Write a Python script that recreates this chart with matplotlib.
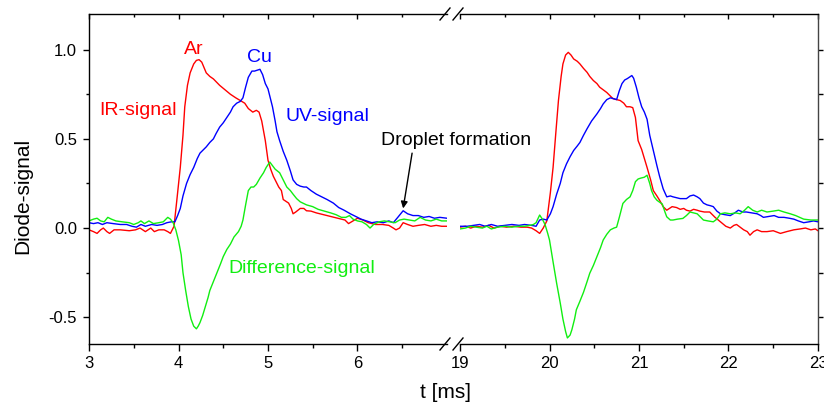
import numpy as np
import matplotlib
matplotlib.use('Agg')
import matplotlib.pyplot as plt
from matplotlib.lines import Line2D
from matplotlib.ticker import MultipleLocator, FixedLocator, FormatStrFormatter

plt.rcParams['font.family'] = ['Liberation Sans', 'DejaVu Sans']
plt.rcParams['axes.unicode_minus'] = False

RED = '#ff0000'
BLUE = '#0000ff'
GREEN = '#11ee11'

# (t [ms], signal) pairs, first shot 3-7 ms
ir_first = np.array([
    (3.00, -0.01), (3.05, -0.02), (3.09, -0.03), (3.13, -0.01), (3.16, 0.00),
    (3.20, -0.02), (3.23, -0.03), (3.28, -0.01), (3.35, -0.01), (3.45, -0.015),
    (3.52, -0.01), (3.57, 0.00), (3.63, -0.02), (3.66, -0.01), (3.69, 0.00),
    (3.73, -0.02), (3.78, -0.01), (3.84, -0.01), (3.88, -0.02), (3.91, -0.03),
    (3.95, 0.01), (3.98, 0.15), (4.02, 0.34), (4.05, 0.52), (4.07, 0.68),
    (4.10, 0.80), (4.13, 0.87), (4.17, 0.92), (4.20, 0.94), (4.23, 0.944),
    (4.26, 0.93), (4.31, 0.87), (4.35, 0.85), (4.39, 0.836), (4.46, 0.80),
    (4.52, 0.775), (4.58, 0.75), (4.64, 0.73), (4.69, 0.715), (4.74, 0.70),
    (4.78, 0.67), (4.83, 0.65), (4.87, 0.66), (4.90, 0.65), (4.93, 0.60),
    (4.97, 0.49), (5.00, 0.38), (5.03, 0.33), (5.06, 0.29), (5.12, 0.23),
    (5.15, 0.21), (5.17, 0.16), (5.20, 0.15), (5.23, 0.14), (5.26, 0.11),
    (5.28, 0.08), (5.31, 0.09), (5.36, 0.11), (5.40, 0.11), (5.43, 0.097),
    (5.48, 0.095), (5.54, 0.085), (5.62, 0.075), (5.70, 0.065), (5.78, 0.055),
    (5.86, 0.045), (5.90, 0.025), (5.95, 0.04), (6.00, 0.055), (6.06, 0.045),
    (6.12, 0.03), (6.20, 0.02), (6.28, 0.02), (6.35, 0.015), (6.40, 0.00),
    (6.43, -0.01), (6.47, 0.00), (6.51, 0.03), (6.56, 0.02), (6.62, 0.01),
    (6.68, 0.015), (6.75, 0.02), (6.82, 0.01), (6.88, 0.015), (6.94, 0.01),
    (7.00, 0.01),
])

uv_first = np.array([
    (3.00, 0.03), (3.05, 0.025), (3.10, 0.03), (3.15, 0.02), (3.20, 0.03),
    (3.27, 0.025), (3.35, 0.02), (3.42, 0.02), (3.48, 0.01), (3.53, 0.005),
    (3.58, 0.02), (3.63, 0.01), (3.70, 0.02), (3.76, 0.015), (3.82, 0.02),
    (3.87, 0.03), (3.92, 0.035), (3.96, 0.035), (3.99, 0.07), (4.02, 0.11),
    (4.05, 0.18), (4.09, 0.25), (4.13, 0.30), (4.17, 0.34), (4.21, 0.39),
    (4.24, 0.42), (4.28, 0.44), (4.31, 0.455), (4.35, 0.48), (4.39, 0.50),
    (4.42, 0.53), (4.46, 0.566), (4.50, 0.59), (4.54, 0.62), (4.58, 0.65),
    (4.61, 0.68), (4.65, 0.70), (4.69, 0.71), (4.72, 0.73), (4.75, 0.79),
    (4.78, 0.845), (4.82, 0.88), (4.85, 0.88), (4.88, 0.885), (4.91, 0.89),
    (4.94, 0.86), (4.97, 0.81), (5.00, 0.78), (5.02, 0.74), (5.05, 0.68),
    (5.08, 0.60), (5.10, 0.54), (5.13, 0.49), (5.17, 0.43), (5.21, 0.38),
    (5.25, 0.32), (5.28, 0.27), (5.32, 0.245), (5.36, 0.235), (5.40, 0.23),
    (5.43, 0.23), (5.48, 0.21), (5.54, 0.19), (5.60, 0.175), (5.66, 0.16),
    (5.73, 0.14), (5.79, 0.115), (5.85, 0.10), (5.92, 0.08), (5.98, 0.065),
    (6.04, 0.05), (6.10, 0.04), (6.16, 0.03), (6.22, 0.035), (6.29, 0.03),
    (6.35, 0.04), (6.40, 0.03), (6.45, 0.06), (6.51, 0.097), (6.56, 0.08),
    (6.62, 0.07), (6.68, 0.07), (6.74, 0.06), (6.80, 0.065), (6.86, 0.055),
    (6.92, 0.06), (7.00, 0.055),
])

diff_first = np.array([
    (3.00, 0.04), (3.05, 0.05), (3.09, 0.055), (3.13, 0.04), (3.17, 0.035),
    (3.21, 0.06), (3.25, 0.05), (3.30, 0.04), (3.37, 0.035), (3.45, 0.03),
    (3.50, 0.02), (3.55, 0.03), (3.58, 0.04), (3.62, 0.025), (3.67, 0.04),
    (3.72, 0.025), (3.78, 0.03), (3.83, 0.035), (3.88, 0.06), (3.91, 0.05),
    (3.94, 0.03), (3.97, -0.01), (4.00, -0.07), (4.03, -0.15), (4.05, -0.25),
    (4.08, -0.35), (4.11, -0.44), (4.14, -0.51), (4.17, -0.55), (4.20, -0.565),
    (4.22, -0.55), (4.24, -0.53), (4.27, -0.49), (4.30, -0.44), (4.33, -0.39),
    (4.35, -0.35), (4.39, -0.30), (4.43, -0.25), (4.47, -0.20), (4.50, -0.16),
    (4.54, -0.12), (4.58, -0.09), (4.62, -0.05), (4.67, -0.02), (4.70, 0.01),
    (4.72, 0.045), (4.75, 0.13), (4.78, 0.21), (4.81, 0.23), (4.84, 0.23),
    (4.87, 0.245), (4.91, 0.28), (4.95, 0.31), (4.98, 0.34), (5.02, 0.37),
    (5.05, 0.35), (5.08, 0.33), (5.13, 0.31), (5.17, 0.27), (5.21, 0.23),
    (5.25, 0.21), (5.28, 0.19), (5.32, 0.165), (5.36, 0.147), (5.43, 0.13),
    (5.50, 0.12), (5.56, 0.105), (5.63, 0.095), (5.70, 0.085), (5.76, 0.075),
    (5.82, 0.06), (5.87, 0.06), (5.91, 0.07), (5.95, 0.05), (6.00, 0.04),
    (6.05, 0.035), (6.10, 0.02), (6.14, 0.00), (6.18, 0.02), (6.24, 0.035),
    (6.30, 0.04), (6.36, 0.035), (6.42, 0.03), (6.47, 0.045), (6.52, 0.05),
    (6.58, 0.045), (6.64, 0.04), (6.70, 0.06), (6.76, 0.045), (6.82, 0.04),
    (6.88, 0.05), (6.94, 0.04), (7.00, 0.04),
])

# second shot 19-23 ms
ir_second = np.array([
    (19.00, 0.005), (19.06, 0.01), (19.12, 0.00), (19.18, 0.01), (19.25, 0.005),
    (19.32, 0.015), (19.38, 0.00), (19.45, 0.01), (19.52, 0.005), (19.60, 0.01),
    (19.68, 0.005), (19.75, 0.005), (19.80, 0.00), (19.85, -0.015), (19.89, -0.03),
    (19.93, 0.00), (19.97, 0.04), (20.01, 0.20), (20.04, 0.34), (20.07, 0.53),
    (20.10, 0.715), (20.13, 0.85), (20.15, 0.92), (20.18, 0.97), (20.21, 0.985),
    (20.24, 0.97), (20.27, 0.948), (20.31, 0.935), (20.34, 0.92), (20.38, 0.895),
    (20.42, 0.873), (20.45, 0.85), (20.49, 0.827), (20.53, 0.81), (20.56, 0.79),
    (20.60, 0.775), (20.64, 0.76), (20.68, 0.74), (20.71, 0.725), (20.75, 0.72),
    (20.79, 0.715), (20.83, 0.70), (20.86, 0.68), (20.90, 0.68), (20.93, 0.675),
    (20.96, 0.62), (20.99, 0.49), (21.03, 0.44), (21.06, 0.39), (21.09, 0.34),
    (21.13, 0.27), (21.16, 0.21), (21.20, 0.18), (21.23, 0.156), (21.27, 0.12),
    (21.31, 0.10), (21.34, 0.11), (21.37, 0.12), (21.42, 0.115), (21.46, 0.105),
    (21.50, 0.11), (21.53, 0.10), (21.57, 0.095), (21.61, 0.105), (21.65, 0.10),
    (21.68, 0.095), (21.73, 0.09), (21.79, 0.09), (21.85, 0.06), (21.91, 0.035),
    (21.97, 0.01), (22.02, 0.00), (22.06, 0.015), (22.09, 0.02), (22.13, 0.005),
    (22.17, -0.01), (22.21, -0.02), (22.24, -0.04), (22.28, -0.02), (22.32, -0.01),
    (22.37, -0.02), (22.43, -0.02), (22.50, -0.015), (22.58, -0.03), (22.65, -0.02),
    (22.73, -0.01), (22.80, -0.005), (22.86, 0.00), (22.92, -0.01), (22.97, -0.005),
    (23.00, -0.015),
])

uv_second = np.array([
    (19.00, 0.01), (19.08, 0.01), (19.15, 0.015), (19.22, 0.02), (19.28, 0.01),
    (19.35, 0.02), (19.42, 0.01), (19.50, 0.015), (19.58, 0.02), (19.66, 0.015),
    (19.72, 0.02), (19.80, 0.015), (19.85, 0.01), (19.89, 0.045), (19.93, 0.05),
    (19.97, 0.045), (20.01, 0.08), (20.04, 0.12), (20.08, 0.19), (20.12, 0.25),
    (20.15, 0.31), (20.19, 0.36), (20.23, 0.40), (20.27, 0.435), (20.31, 0.46),
    (20.34, 0.48), (20.38, 0.52), (20.42, 0.557), (20.47, 0.60), (20.53, 0.64),
    (20.57, 0.67), (20.60, 0.696), (20.64, 0.72), (20.68, 0.73), (20.72, 0.725),
    (20.75, 0.72), (20.78, 0.77), (20.81, 0.81), (20.84, 0.83), (20.87, 0.838),
    (20.92, 0.855), (20.94, 0.84), (20.97, 0.79), (21.00, 0.73), (21.03, 0.68),
    (21.06, 0.65), (21.09, 0.61), (21.12, 0.52), (21.16, 0.435), (21.20, 0.35),
    (21.23, 0.29), (21.27, 0.22), (21.31, 0.175), (21.35, 0.18), (21.38, 0.175),
    (21.42, 0.17), (21.46, 0.165), (21.50, 0.165), (21.53, 0.165), (21.57, 0.18),
    (21.61, 0.185), (21.65, 0.175), (21.68, 0.165), (21.72, 0.14), (21.76, 0.13),
    (21.80, 0.125), (21.83, 0.12), (21.87, 0.095), (21.91, 0.08), (21.96, 0.075),
    (22.02, 0.07), (22.07, 0.085), (22.11, 0.10), (22.16, 0.09), (22.20, 0.09),
    (22.26, 0.085), (22.32, 0.08), (22.36, 0.07), (22.39, 0.06), (22.45, 0.065),
    (22.51, 0.07), (22.56, 0.06), (22.62, 0.06), (22.68, 0.055), (22.73, 0.05),
    (22.78, 0.04), (22.84, 0.03), (22.90, 0.035), (22.95, 0.04), (23.00, 0.035),
])

diff_second = np.array([
    (19.00, -0.005), (19.06, 0.00), (19.12, 0.01), (19.18, 0.005), (19.25, 0.00),
    (19.30, 0.01), (19.35, -0.005), (19.42, 0.005), (19.50, 0.01), (19.58, 0.005),
    (19.65, 0.01), (19.72, 0.01), (19.78, 0.015), (19.82, 0.02), (19.85, 0.03),
    (19.89, 0.073), (19.92, 0.05), (19.95, 0.02), (19.98, -0.03), (20.00, -0.067),
    (20.04, -0.19), (20.08, -0.31), (20.12, -0.42), (20.15, -0.51), (20.18, -0.58),
    (20.20, -0.616), (20.23, -0.60), (20.25, -0.57), (20.28, -0.51), (20.30, -0.458),
    (20.34, -0.41), (20.38, -0.36), (20.42, -0.30), (20.45, -0.253), (20.49, -0.21),
    (20.53, -0.16), (20.57, -0.11), (20.60, -0.067), (20.64, -0.035), (20.68, -0.01),
    (20.72, 0.00), (20.75, 0.005), (20.78, 0.06), (20.82, 0.138), (20.86, 0.16),
    (20.90, 0.175), (20.93, 0.21), (20.96, 0.26), (20.99, 0.275), (21.02, 0.28),
    (21.06, 0.285), (21.09, 0.296), (21.12, 0.25), (21.14, 0.21), (21.17, 0.175),
    (21.20, 0.156), (21.23, 0.145), (21.26, 0.135), (21.29, 0.09), (21.31, 0.063),
    (21.35, 0.045), (21.38, 0.045), (21.43, 0.05), (21.49, 0.054), (21.53, 0.07),
    (21.57, 0.09), (21.61, 0.085), (21.65, 0.08), (21.69, 0.06), (21.72, 0.045),
    (21.77, 0.04), (21.83, 0.035), (21.87, 0.05), (21.91, 0.08), (21.96, 0.085),
    (22.02, 0.08), (22.08, 0.085), (22.13, 0.08), (22.18, 0.10), (22.22, 0.12),
    (22.27, 0.10), (22.32, 0.09), (22.37, 0.10), (22.43, 0.09), (22.50, 0.095),
    (22.56, 0.10), (22.62, 0.09), (22.69, 0.08), (22.75, 0.07), (22.84, 0.05),
    (22.92, 0.045), (23.00, 0.045),
])

first_major = [3, 4, 5, 6]
first_minor = [3.5, 4.5, 5.5, 6.5]
second_major = [19, 20, 21, 22, 23]
second_minor = [19.5, 20.5, 21.5, 22.5]

W, H = 824, 405
fig = plt.figure(figsize=(W / 100, H / 100), dpi=100)

# axes boxes in pixels: left, right, top, bottom
def px_box(x0, x1, y0, y1):
    return [x0 / W, 1 - y1 / H, (x1 - x0) / W, (y1 - y0) / H]

ax1 = fig.add_axes(px_box(89, 447, 14, 344))
ax2 = fig.add_axes(px_box(460, 818, 14, 344))

panels = [
    (ax1, (ir_first, uv_first, diff_first), (3, 7), first_major, first_minor),
    (ax2, (ir_second, uv_second, diff_second), (19, 23), second_major, second_minor),
]
for ax, (ir, uv, df), lim, major, minor in panels:
    ax.plot(ir[:, 0], ir[:, 1], color=RED, lw=1.0)
    ax.plot(uv[:, 0], uv[:, 1], color=BLUE, lw=1.0)
    ax.plot(df[:, 0], df[:, 1], color=GREEN, lw=1.0)
    ax.set_xlim(*lim)
    ax.set_ylim(-0.65, 1.2)
    ax.xaxis.set_major_locator(FixedLocator(major))
    ax.xaxis.set_minor_locator(FixedLocator(minor))
    ax.yaxis.set_major_locator(MultipleLocator(0.5))
    ax.yaxis.set_minor_locator(MultipleLocator(0.25))
    ax.yaxis.set_major_formatter(FormatStrFormatter('%.1f'))
    for s in ax.spines.values():
        s.set_linewidth(1.0)
    ax.tick_params(axis='x', which='major', bottom=True, top=False, direction='out',
                   length=5, width=1.0, labelsize=12, pad=4)
    ax.tick_params(axis='x', which='minor', bottom=True, top=False, direction='out',
                   length=3, width=1.0)
    ax.patch.set_visible(False)

    # top ticks point inward
    sec = ax.secondary_xaxis('top')
    sec.xaxis.set_major_locator(FixedLocator(major))
    sec.xaxis.set_minor_locator(FixedLocator(minor))
    sec.tick_params(which='major', direction='in', length=3.6, width=1.0, labeltop=False)
    sec.tick_params(which='minor', direction='in', length=2.2, width=1.0)
    sec.spines['top'].set_visible(False)

ax1.spines['right'].set_visible(False)
ax2.spines['left'].set_visible(False)
ax1.tick_params(axis='y', which='major', left=True, right=False, direction='out',
                length=4.5, width=1.0, labelsize=12, pad=4)
ax1.tick_params(axis='y', which='minor', left=True, right=False, direction='out',
                length=2.5, width=1.0)
ax2.tick_params(axis='y', which='both', left=False, right=True, labelleft=False,
                direction='out', length=3.5, width=1.0)
ax2.spines['right'].set_color('#444444')

# break marks on the axis gap
for xc in (445, 458):
    for yc in (14, 344):
        fig.add_artist(Line2D([(xc - 5) / W, (xc + 5) / W],
                              [1 - (yc + 6) / H, 1 - (yc - 6) / H],
                              color='black', lw=1.0))

ax1.text(4.173, 0.978, 'Ar', color=RED, fontsize=14, ha='center', va='baseline')
ax1.text(4.899, 0.929, 'Cu', color=BLUE, fontsize=14, ha='center', va='baseline')
ax1.text(3.542, 0.635, 'IR-signal', color=RED, fontsize=14, ha='center', va='baseline')
ax1.text(5.659, 0.600, 'UV-signal', color=BLUE, fontsize=14, ha='center', va='baseline')
ax1.text(5.380, -0.253, 'Difference-signal', color=GREEN, fontsize=14,
         ha='center', va='baseline')
ax1.text(7.101, 0.468, 'Droplet formation', color='black', fontsize=14,
         ha='center', va='baseline', clip_on=False)
ax1.annotate('', xy=(6.51, 0.11), xytext=(6.61, 0.42),
             arrowprops=dict(arrowstyle='-|>', color='black', lw=1.0,
                             mutation_scale=10, shrinkA=0, shrinkB=0))

fig.text(23 / W, 1 - 196 / H, 'Diode-signal', rotation=90, fontsize=15,
         ha='center', va='center')
fig.text(446 / W, 1 - 392 / H, 't [ms]', fontsize=15, ha='center', va='center')

fig.savefig('out.png', dpi=100)
